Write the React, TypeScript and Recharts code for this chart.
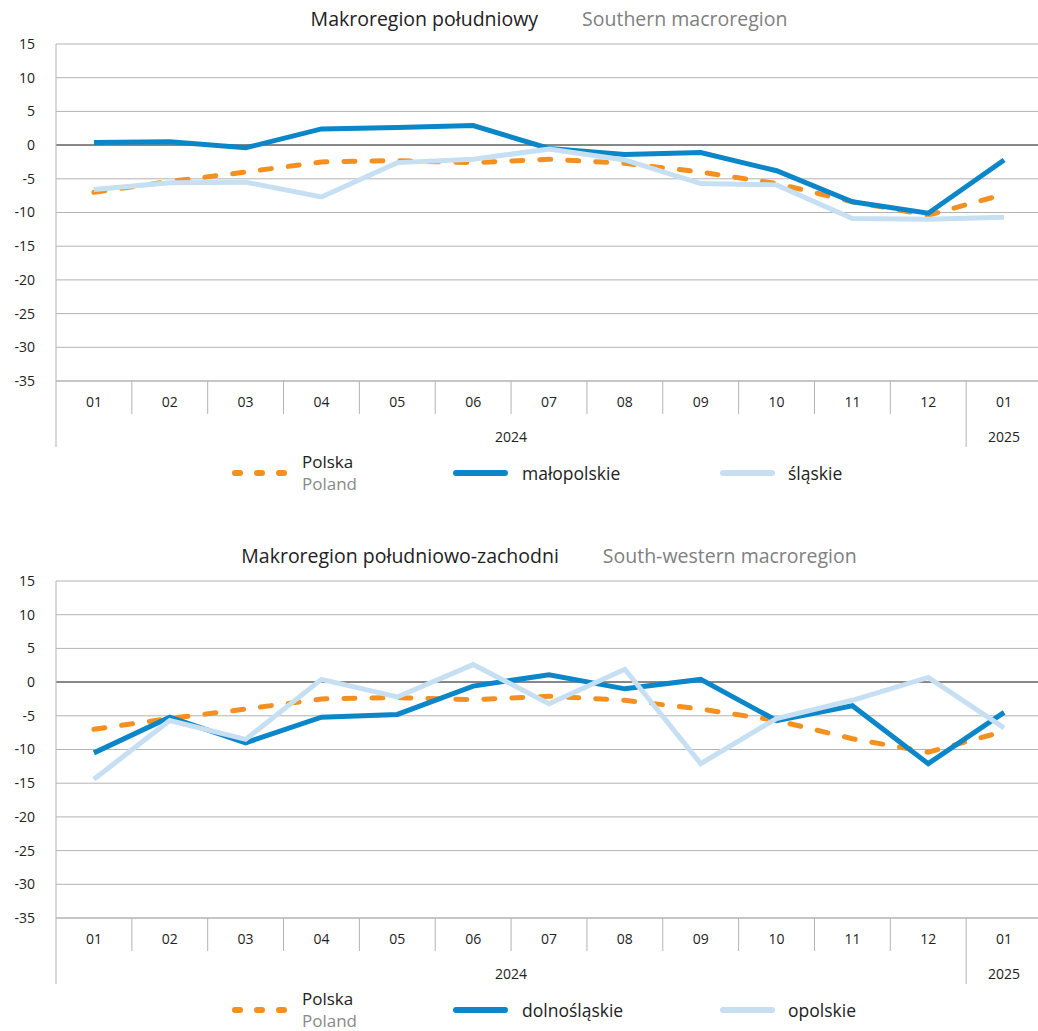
import { LineChart, Line, XAxis, YAxis, CartesianGrid, ReferenceLine } from "recharts";

const months = ["01", "02", "03", "04", "05", "06", "07", "08", "09", "10", "11", "12", "01"];
const years = ["2024", "2024", "2024", "2024", "2024", "2024", "2024", "2024", "2024", "2024", "2024", "2024", "2025"];
const yTicks = [15, 10, 5, 0, -5, -10, -15, -20, -25, -30, -35];

const polska = [-7.0, -5.4, -4.0, -2.5, -2.3, -2.6, -2.1, -2.7, -4.0, -5.7, -8.4, -10.4, -7.3];
const malopolskie = [0.4, 0.5, -0.4, 2.4, 2.6, 2.9, -0.5, -1.4, -1.1, -3.8, -8.4, -10.1, -2.2];
const slaskie = [-6.6, -5.6, -5.5, -7.7, -2.6, -2.1, -0.6, -2.2, -5.7, -5.9, -10.9, -11.0, -10.7];
const dolnoslaskie = [-10.5, -5.2, -9.0, -5.2, -4.8, -0.6, 1.1, -1.0, 0.4, -5.7, -3.5, -12.1, -4.5];
const opolskie = [-14.4, -5.7, -8.5, 0.4, -2.2, 2.6, -3.2, 1.9, -12.1, -5.4, -2.7, 0.7, -6.8];

const ORANGE = "#f39020";
const BLUE = "#0a86c9";
const LIGHT = "#c6dff2";
const GRID = "#b3b3b3";
const FONT = "'Open Sans', 'Noto Sans', sans-serif";

const CHART_W = 1042;
const PLOT_LEFT = 56;
const BAND = (CHART_W - PLOT_LEFT) / months.length;

function buildRows(a: number[], b: number[]) {
  return months.map((m, i) => ({
    key: `${years[i]}-${m}-${i}`,
    polska: polska[i],
    a: a[i],
    b: b[i],
  }));
}

function MonthTick(props: any) {
  const { x, y, index } = props;
  const i = index as number;
  const left = x - BAND / 2;
  const newYear = i === 0 || years[i] !== years[i - 1];
  let yearLabel = null;
  if (newYear) {
    let n = 0;
    while (i + n < years.length && years[i + n] === years[i]) n++;
    yearLabel = (
      <text x={left + (n * BAND) / 2} y={y + 61} textAnchor="middle" fontSize={14} fill="#222" fontFamily={FONT}>
        {years[i]}
      </text>
    );
  }
  return (
    <g>
      <line x1={left} x2={left} y1={y} y2={y + (newYear ? 66 : 33)} stroke={GRID} strokeWidth={1} />
      <text x={x} y={y + 26} textAnchor="middle" fontSize={14} fill="#222" fontFamily={FONT}>
        {months[i]}
      </text>
      {yearLabel}
    </g>
  );
}

function LegendIcon({ color, dotted }: { color: string; dotted?: boolean }) {
  return (
    <svg width={58} height={12} style={{ display: "block" }}>
      <line
        x1={3}
        x2={dotted ? 56 : 52}
        y1={6}
        y2={6}
        stroke={color}
        strokeWidth={6}
        strokeLinecap="round"
        strokeDasharray={dotted ? "5 17" : undefined}
      />
    </svg>
  );
}

function Panel({
  top,
  titlePl,
  titleEn,
  nameA,
  nameB,
  a,
  b,
}: {
  top: number;
  titlePl: string;
  titleEn: string;
  nameA: string;
  nameB: string;
  a: number[];
  b: number[];
}) {
  const rows = buildRows(a, b);
  return (
    <div style={{ position: "absolute", left: 0, top, width: 1038, height: 494 }}>
      <div
        style={{
          position: "absolute",
          left: 0,
          width: 1098,
          top: 6,
          display: "flex",
          justifyContent: "center",
          gap: 44,
          fontSize: 19.5,
          lineHeight: "26px",
          whiteSpace: "nowrap",
        }}
      >
        <span style={{ color: "#222" }}>{titlePl}</span>
        <span style={{ color: "#808080" }}>{titleEn}</span>
      </div>
      <div style={{ position: "absolute", left: 0, top: 0 }}>
        <LineChart width={CHART_W} height={447} data={rows} margin={{ top: 44, right: 0, bottom: 0, left: 0 }}>
          <CartesianGrid vertical={false} stroke={GRID} strokeWidth={1} />
          <XAxis
            dataKey="key"
            scale="band"
            interval={0}
            height={66}
            tickLine={false}
            tickSize={0}
            tickMargin={0}
            axisLine={{ stroke: GRID }}
            tick={<MonthTick />}
          />
          <YAxis
            type="number"
            domain={[-35, 15]}
            ticks={yTicks}
            interval={0}
            width={PLOT_LEFT}
            tickLine={false}
            tickSize={0}
            tickMargin={21}
            axisLine={{ stroke: GRID }}
            tick={{ fontSize: 14, fill: "#222", fontFamily: FONT }}
          />
          <ReferenceLine y={0} stroke="#6d6d6d" strokeWidth={1.5} />
          <Line
            dataKey="polska"
            type="linear"
            stroke={ORANGE}
            strokeWidth={5}
            strokeDasharray="11 17"
            strokeLinecap="round"
            dot={false}
            activeDot={false}
            isAnimationActive={false}
          />
          <Line dataKey="a" type="linear" stroke={BLUE} strokeWidth={5} dot={false} activeDot={false} isAnimationActive={false} />
          <Line dataKey="b" type="linear" stroke={LIGHT} strokeWidth={5} dot={false} activeDot={false} isAnimationActive={false} />
        </LineChart>
      </div>
      <div style={{ position: "absolute", left: 232, top: 467 }}>
        <LegendIcon color={ORANGE} dotted />
      </div>
      <div style={{ position: "absolute", left: 302, top: 453, fontSize: 17, lineHeight: "17px" }}>
        <div style={{ color: "#222" }}>Polska</div>
        <div style={{ color: "#8a8a8a", marginTop: 5 }}>Poland</div>
      </div>
      <div style={{ position: "absolute", left: 453, top: 467 }}>
        <LegendIcon color={BLUE} />
      </div>
      <div style={{ position: "absolute", left: 522, top: 463, fontSize: 17.5, lineHeight: "20px", color: "#222" }}>{nameA}</div>
      <div style={{ position: "absolute", left: 720, top: 467 }}>
        <LegendIcon color={LIGHT} />
      </div>
      <div style={{ position: "absolute", left: 788, top: 463, fontSize: 17.5, lineHeight: "20px", color: "#222" }}>{nameB}</div>
    </div>
  );
}

export default function App() {
  return (
    <div
      style={{
        position: "absolute",
        left: 0,
        top: 0,
        width: 1038,
        height: 1031,
        overflow: "hidden",
        background: "#fff",
        fontFamily: FONT,
      }}
    >
      <Panel
        top={0}
        titlePl="Makroregion południowy"
        titleEn="Southern macroregion"
        nameA="małopolskie"
        nameB="śląskie"
        a={malopolskie}
        b={slaskie}
      />
      <Panel
        top={537}
        titlePl="Makroregion południowo-zachodni"
        titleEn="South-western macroregion"
        nameA="dolnośląskie"
        nameB="opolskie"
        a={dolnoslaskie}
        b={opolskie}
      />
    </div>
  );
}
